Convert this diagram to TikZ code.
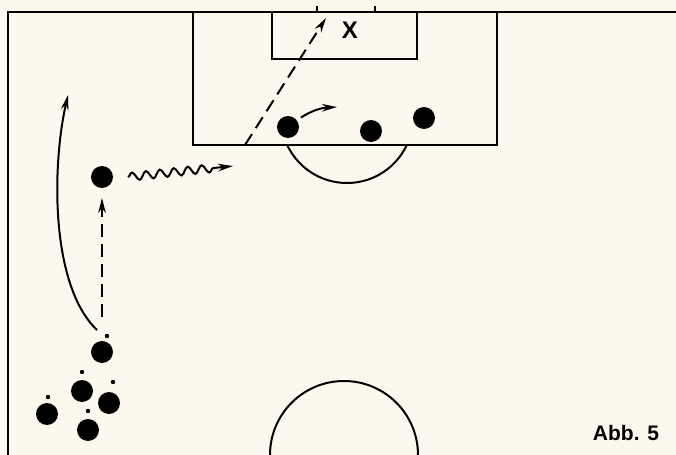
\documentclass[tikz,border=0pt]{standalone}
\usepackage{fontspec}
\newfontfamily\abbfont{Liberation Sans}
\usepackage{tikz}
\usetikzlibrary{arrows.meta,decorations.pathmorphing}
\definecolor{paper}{RGB}{252,248,238}

\begin{document}
\begin{tikzpicture}[x=0.5pt,y=-0.5pt,line width=1pt,
  player/.style={circle,fill,inner sep=0pt,minimum size=11pt},
  ball/.style={circle,fill,inner sep=0pt,minimum size=2.2pt},
  tip/.style={-{Stealth[length=7.5pt,width=3.8pt]}},
  pass/.style={tip,dash pattern=on 6.5pt off 3.5pt},
  lbl/.style={font=\abbfont\bfseries\fontsize{10.5}{12}\selectfont,inner sep=0pt}]
\useasboundingbox (0,0) rectangle (676,455);
\fill[paper] (0,0) rectangle (676,455);
\clip (0,0) rectangle (676,455);
\draw (8,455) -- (8,12) -- (676,12);
\draw (193,12) rectangle (497,145);
\draw (272,12) rectangle (417,59);
\draw (317,6) -- (317,12) (375,6) -- (375,12);
\begin{scope}
\clip (193,145) rectangle (497,300);
\draw (347,117) circle[radius=33pt];
\end{scope}
\draw (344,455) circle[radius=37pt];
\node[lbl,font=\abbfont\bfseries\fontsize{12}{14}\selectfont] (goal) at (350,30) {X};
\node[player] (d1) at (288,127) {};
\node[player] (d2) at (371,131) {};
\node[player] (d3) at (424,118) {};
\node[player] (w) at (102,177) {};
\node[player] (p1) at (102,352) {};
\node[player] (p2) at (82,391) {};
\node[player] (p3) at (109,403) {};
\node[player] (p4) at (47,414) {};
\node[player] (p5) at (88,430) {};
\node[ball] (b1) at (107,336) {};
\node[ball] (b2) at (82,372) {};
\node[ball] (b3) at (113,382) {};
\node[ball] (b4) at (48,397) {};
\node[ball] (b5) at (88,411) {};
\node[lbl] (abb) at (626,433) {Abb. 5};
\coordinate (shot) at (245,145);
\coordinate (aim) at (326,18);
\coordinate (runstart) at (97,330);
\coordinate (runend) at (68,95);
\coordinate (dribble) at (233,166);
\coordinate (d1aim) at (337,107);
\draw[pass] (shot) -- (aim);
\draw[pass,shorten <=11.5pt,shorten >=4.5pt] (p1) -- (w);
\draw[tip] (runstart) .. controls (50,285) and (52,165) .. (runend);
\draw[tip,decorate,decoration={snake,amplitude=2pt,segment length=7pt,post length=9pt}] ([xshift=7pt]w.east) -- (dribble);
\draw[tip,shorten <=2pt] (d1) to[bend left=15] (d1aim);
\end{tikzpicture}
\end{document}
